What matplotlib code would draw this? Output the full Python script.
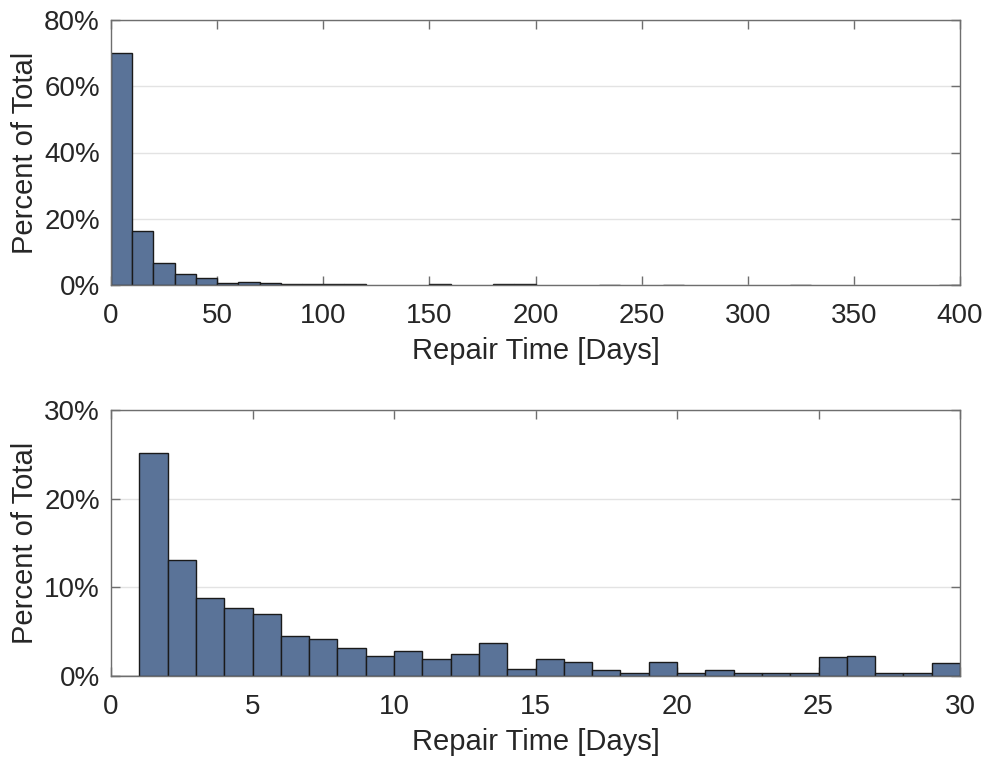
import matplotlib
matplotlib.use("Agg")
import matplotlib.pyplot as plt
import numpy as np

# ---- data ----
top_bin_width = 10
top_bin_starts = [0, 10, 20, 30, 40, 50, 60, 70, 80, 90, 100, 110,
                  150, 180, 190, 230, 260, 320, 390]
top_values = [69.9, 16.2, 6.5, 3.3, 2.0, 0.5, 1.0, 0.6, 0.4, 0.4, 0.3, 0.3,
              0.2, 0.2, 0.2, 0.1, 0.1, 0.1, 0.1]

bottom_bin_width = 1
bottom_bin_starts = list(range(0, 30))
bottom_values = [0.0, 25.1, 13.08, 8.85, 7.64, 6.96, 4.46, 4.2, 3.21, 2.27,
                 2.84, 1.96, 2.53, 3.77, 0.75, 1.96, 1.58, 0.64, 0.34, 1.58,
                 0.34, 0.64, 0.34, 0.34, 0.34, 2.11, 2.26, 0.34, 0.34, 1.43]

top_xticks = [0, 50, 100, 150, 200, 250, 300, 350, 400]
top_yticks = [0, 20, 40, 60, 80]
bottom_xticks = [0, 5, 10, 15, 20, 25, 30]
bottom_yticks = [0, 10, 20, 30]
xlabel = "Repair Time [Days]"
ylabel = "Percent of Total"

# ---- style ----
plt.rcParams['font.family'] = ['Liberation Sans', 'DejaVu Sans']
face = '#5a7398'
edge = '#1a1a1a'
spine_c = '#6e6e6e'
text_c = '#262626'
fs = 20
lfs = 21

fig = plt.figure(figsize=(9.83, 7.6), dpi=100)
ax1 = fig.add_axes([111/983, 1-285/760, 849/983, 265/760])
ax2 = fig.add_axes([111/983, 1-676/760, 849/983, 266/760])


def style(ax, xticks, yticks, xlim, ylim):
    ax.set_xlim(*xlim)
    ax.set_ylim(*ylim)
    ax.set_xticks(xticks)
    ax.set_yticks(yticks)
    ax.set_yticklabels([f"{v}%" for v in yticks])
    ax.set_xticklabels([str(v) for v in xticks])
    ax.grid(axis='y', color='#e3e3e3', linewidth=1)
    ax.set_axisbelow(True)
    for s in ax.spines.values():
        s.set_color(spine_c)
        s.set_linewidth(1.0)
        s.set_zorder(5)
    ax.tick_params(direction='in', length=6.5, width=1, color=spine_c,
                   labelsize=fs, labelcolor=text_c, top=True, right=True)
    ax.tick_params(axis='x', pad=13)
    ax.tick_params(axis='y', pad=8)
    ax.set_xlabel(xlabel, fontsize=lfs, color=text_c, labelpad=6)
    ax.set_ylabel(ylabel, fontsize=lfs, color=text_c, labelpad=4)


ax1.bar(top_bin_starts, top_values, width=top_bin_width, align='edge',
        color=face, edgecolor=edge, linewidth=1.0, zorder=3)
style(ax1, top_xticks, top_yticks, (0, 400), (0, 80))

ax2.bar(bottom_bin_starts, bottom_values, width=bottom_bin_width, align='edge',
        color=face, edgecolor=edge, linewidth=1.0, zorder=3)
style(ax2, bottom_xticks, bottom_yticks, (0, 30), (0, 30))

fig.savefig("out.png", dpi=100)
